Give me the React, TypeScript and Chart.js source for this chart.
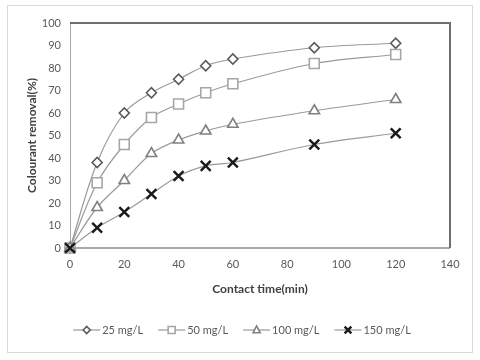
import React, { useEffect, useRef } from 'react';
import { Chart, registerables } from 'chart.js';

Chart.register(...registerables);

const times = [0, 10, 20, 30, 40, 50, 60, 90, 120];
const removal25 = [0, 38, 60, 69, 75, 81, 84, 89, 91];
const removal50 = [0, 29, 46, 58, 64, 69, 73, 82, 86];
const removal100 = [0, 18, 30, 42, 48, 52, 55, 61, 66];
const removal150 = [0, 9, 16, 24, 32, 36.5, 38, 46, 51];
const seriesLabels = ['25 mg/L', '50 mg/L', '100 mg/L', '150 mg/L'];
const xTitle = 'Contact time(min)';
const yTitle = 'Colourant removal(%)';

const FONT = 'Lato';
const TEXT = '#595959';
const LINE = '#9a9a9a';

const markerStyles = [
  { style: 'rectRot', color: '#595959', radius: 5, width: 1.6, legendSize: 3.5 },
  { style: 'rect', color: '#a6a6a6', radius: 7, width: 1.6, legendSize: 3.5 },
  { style: 'triangle', color: '#808080', radius: 6, width: 1.6, legendSize: 4 },
  { style: 'crossRot', color: '#1a1a1a', radius: 7, width: 2.4, legendSize: 4.5 },
];

function drawMarker(ctx: CanvasRenderingContext2D, style: string, x: number, y: number, s: number) {
  ctx.beginPath();
  if (style === 'rectRot') {
    ctx.moveTo(x - s, y); ctx.lineTo(x, y - s); ctx.lineTo(x + s, y); ctx.lineTo(x, y + s); ctx.closePath();
    ctx.fill(); ctx.stroke();
  } else if (style === 'rect') {
    ctx.rect(x - s, y - s, 2 * s, 2 * s); ctx.fill(); ctx.stroke();
  } else if (style === 'triangle') {
    ctx.moveTo(x, y - s); ctx.lineTo(x + s * 0.9, y + s * 0.7); ctx.lineTo(x - s * 0.9, y + s * 0.7); ctx.closePath();
    ctx.fill(); ctx.stroke();
  } else {
    ctx.moveTo(x - s * 0.75, y - s * 0.75); ctx.lineTo(x + s * 0.75, y + s * 0.75);
    ctx.moveTo(x + s * 0.75, y - s * 0.75); ctx.lineTo(x - s * 0.75, y + s * 0.75);
    ctx.stroke();
  }
}

const framePlugin = {
  id: 'framePlugin',
  beforeDraw(chart: any) {
    const ctx = chart.ctx as CanvasRenderingContext2D;
    ctx.save();
    ctx.fillStyle = '#ffffff';
    ctx.fillRect(0, 0, chart.width, chart.height);
    ctx.strokeStyle = '#d9d9d9';
    ctx.lineWidth = 1;
    ctx.strokeRect(7.5, 5.5, 465, 347);
    ctx.restore();
  },
  beforeDatasetsDraw(chart: any) {
    const ctx = chart.ctx as CanvasRenderingContext2D;
    const { left, right, top, bottom } = chart.chartArea;
    ctx.save();
    ctx.strokeStyle = '#a6a6a6';
    ctx.lineWidth = 1;
    ctx.beginPath(); ctx.moveTo(left + 0.5, top); ctx.lineTo(left + 0.5, bottom); ctx.stroke();
    ctx.strokeStyle = '#8c8c8c';
    ctx.lineWidth = 1.5;
    ctx.beginPath(); ctx.moveTo(left, bottom); ctx.lineTo(right, bottom); ctx.stroke();
    ctx.strokeStyle = '#6e6e6e';
    ctx.lineWidth = 2;
    ctx.beginPath(); ctx.moveTo(left, top); ctx.lineTo(right, top); ctx.lineTo(right, bottom); ctx.stroke();
    ctx.restore();
  },
  afterDraw(chart: any) {
    const ctx = chart.ctx as CanvasRenderingContext2D;
    ctx.save();
    const y = 330;
    const lineLen = 27;
    const gap = 2;
    const itemGap = 15;
    ctx.font = `11px ${FONT}`;
    const widths = chart.data.datasets.map((d: any) => ctx.measureText(d.label).width);
    const total = widths.reduce((a: number, b: number) => a + b, 0) + chart.data.datasets.length * (lineLen + gap) + itemGap * (chart.data.datasets.length - 1);
    let x = 242 - total / 2;
    chart.data.datasets.forEach((d: any, i: number) => {
      const m = markerStyles[i];
      ctx.strokeStyle = LINE;
      ctx.lineWidth = 1.2;
      ctx.beginPath(); ctx.moveTo(x, y); ctx.lineTo(x + lineLen, y); ctx.stroke();
      ctx.strokeStyle = m.color;
      ctx.fillStyle = '#ffffff';
      ctx.lineWidth = m.width;
      drawMarker(ctx, m.style, x + lineLen / 2, y, m.legendSize);
      ctx.fillStyle = TEXT;
      ctx.textAlign = 'left';
      ctx.textBaseline = 'middle';
      ctx.fillText(d.label, x + lineLen + gap, y);
      x += lineLen + gap + widths[i] + itemGap;
    });
    ctx.restore();
  },
};

export default function App() {
  const canvasRef = useRef<HTMLCanvasElement | null>(null);

  useEffect(() => {
    if (!canvasRef.current) return;
    const seriesValues = [removal25, removal50, removal100, removal150];
    const chart = new Chart(canvasRef.current, {
      type: 'line',
      data: {
        datasets: seriesValues.map((vals, i) => ({
          label: seriesLabels[i],
          data: times.map((t, j) => ({ x: t, y: vals[j] })),
          borderColor: LINE,
          borderWidth: 1.2,
          tension: 0.35,
          clip: false,
          order: 3 - i,
          pointStyle: markerStyles[i].style as any,
          pointRadius: markerStyles[i].radius,
          pointHoverRadius: markerStyles[i].radius,
          pointBorderColor: markerStyles[i].color,
          pointBackgroundColor: '#ffffff',
          pointBorderWidth: markerStyles[i].width,
          fill: false,
        })),
      },
      options: {
        responsive: false,
        animation: false,
        devicePixelRatio: 1,
        layout: { padding: { left: 0, right: 30, top: 23, bottom: 62 } },
        plugins: { legend: { display: false }, tooltip: { enabled: false } },
        scales: {
          x: {
            type: 'linear',
            min: 0,
            max: 140,
            grid: { display: false, drawTicks: false },
            border: { display: false },
            ticks: { stepSize: 20, padding: 10, color: TEXT, font: { family: FONT, size: 11 } },
            title: { display: true, text: xTitle, color: '#404040', padding: { top: 0, bottom: 2 }, font: { family: FONT, size: 12, weight: 'bold' } },
            afterFit: (scale: any) => { scale.height = 50; },
          },
          y: {
            min: 0,
            max: 100,
            grid: { display: false, drawTicks: false },
            border: { display: false },
            ticks: { stepSize: 10, padding: 9, color: TEXT, font: { family: FONT, size: 11 } },
            title: { display: true, text: yTitle, color: '#404040', padding: { top: 25, bottom: 0 }, font: { family: FONT, size: 12, weight: 'bold' } },
            afterFit: (scale: any) => { scale.width = 70; },
          },
        },
      },
      plugins: [framePlugin],
    });
    return () => chart.destroy();
  }, []);

  return (
    <div style={{ position: 'fixed', left: 0, top: 0, width: 480, height: 360, background: '#fff' }}>
      <canvas ref={canvasRef} width={480} height={360} style={{ display: 'block' }} />
    </div>
  );
}
